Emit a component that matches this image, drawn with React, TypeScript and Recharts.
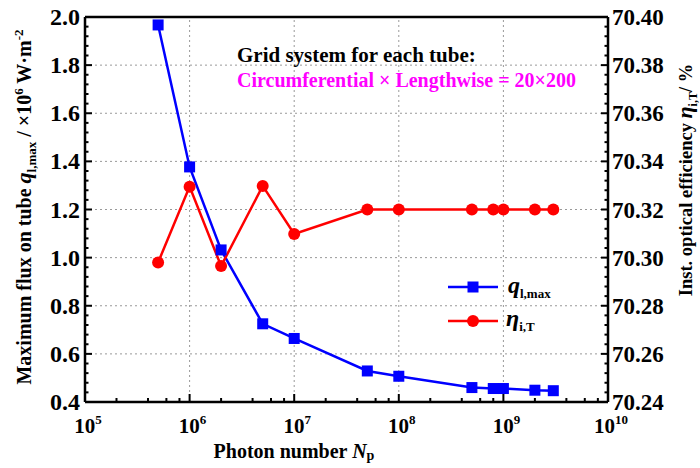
import React from 'react'
import { Line, LineChart, ReferenceLine, XAxis, YAxis } from 'recharts'

const photons = [5e5, 1e6, 2e6, 5e6, 1e7, 5e7, 1e8, 5e8, 8e8, 1e9, 2e9, 3e9]
const qMax = [1.967, 1.377, 1.032, 0.725, 0.664, 0.529, 0.507, 0.46, 0.456, 0.456, 0.449, 0.447]
const etaIT = [70.298, 70.3295, 70.2965, 70.3298, 70.3098, 70.32, 70.32, 70.32, 70.32, 70.32, 70.32, 70.32]

const xDecades = [1e5, 1e6, 1e7, 1e8, 1e9, 1e10]
const xMinorFactors = [2, 4, 6, 8]
const qTicks = [0.4, 0.6, 0.8, 1.0, 1.2, 1.4, 1.6, 1.8, 2.0]
const etaTicks = [70.24, 70.26, 70.28, 70.3, 70.32, 70.34, 70.36, 70.38, 70.4]

const data = photons.map((n, i) => ({ n, q: qMax[i], eta: etaIT[i] }))

const withMinors = (major: number[], parts: number, digits: number) =>
    major.flatMap((t, i) => {
        if (i === major.length - 1) return [t]
        const step = (major[i + 1] - t) / parts
        return Array.from({ length: parts }, (_, k) => Number((t + k * step).toFixed(digits)))
    })

const xAllTicks = xDecades.flatMap((d, i) =>
    i === xDecades.length - 1 ? [d] : [d, ...xMinorFactors.map((f) => d * f)]
)
const qAllTicks = withMinors(qTicks, 5, 3)
const etaAllTicks = withMinors(etaTicks, 5, 4)

const serif = { fontFamily: "'Liberation Serif', serif", fontWeight: 'bold' as const }
const BLUE = '#0000ff'
const RED = '#ff0000'

const LeftTick = ({ x, y, payload }: any) => {
    const major = qTicks.some((t) => Math.abs(t - payload.value) < 1e-6)
    return (
        <g>
            <line x1={x} x2={x + (major ? 7 : 3.5)} y1={y} y2={y} stroke="#000" strokeWidth={2} />
            {major && (
                <text x={x - 5} y={y + 8} textAnchor="end" style={serif} fontSize={24} fill="#000">
                    {payload.value.toFixed(1)}
                </text>
            )}
        </g>
    )
}

const RightTick = ({ x, y, payload }: any) => {
    const major = etaTicks.some((t) => Math.abs(t - payload.value) < 1e-6)
    return (
        <g>
            <line x1={x} x2={x - (major ? 7 : 3.5)} y1={y} y2={y} stroke="#000" strokeWidth={2} />
            {major && (
                <text x={x + 4} y={y + 8} textAnchor="start" style={serif} fontSize={23} fill="#000">
                    {payload.value.toFixed(2)}
                </text>
            )}
        </g>
    )
}

const BottomTick = ({ x, y, payload }: any) => {
    const exp = Math.round(Math.log10(payload.value))
    const major = xDecades.some((d) => Math.abs(d - payload.value) / d < 1e-6)
    return (
        <g>
            <line x1={x} x2={x} y1={y} y2={y - (major ? 8 : 4)} stroke="#000" strokeWidth={2} />
            {major && (
                <text x={x + 3} y={y + 31} textAnchor="middle" style={serif} fontSize={21} fill="#000">
                    10
                    <tspan dy={-9} fontSize={13}>
                        {exp}
                    </tspan>
                </text>
            )}
        </g>
    )
}

const SquareDot = (props: any) => {
    const { cx, cy, index } = props
    return <rect key={`sq-${index}`} x={cx - 5.5} y={cy - 5.5} width={11} height={11} fill={BLUE} />
}

const RoundDot = (props: any) => {
    const { cx, cy, index } = props
    return <circle key={`ci-${index}`} cx={cx} cy={cy} r={6} fill={RED} />
}

const gridLine = { stroke: '#999', strokeDasharray: '2 3', strokeWidth: 1 }

export default function App() {
    return (
        <div style={{ position: 'absolute', left: 0, top: 0, width: 700, height: 468, background: '#fff' }}>
            <LineChart width={700} height={468} data={data} margin={{ top: 17, right: 32, bottom: 16, left: 25 }}>
                <XAxis
                    dataKey="n"
                    type="number"
                    scale="log"
                    domain={[1e5, 1e10]}
                    ticks={xAllTicks}
                    interval={0}
                    allowDataOverflow
                    height={50}
                    tickLine={false}
                    tickSize={0}
                    tickMargin={0}
                    tick={<BottomTick />}
                    axisLine={{ stroke: '#000', strokeWidth: 2.5 }}
                />
                <YAxis
                    yAxisId="q"
                    orientation="left"
                    type="number"
                    domain={[0.4, 2.0]}
                    ticks={qAllTicks}
                    interval={0}
                    allowDataOverflow
                    width={60}
                    tickLine={false}
                    tickSize={0}
                    tickMargin={0}
                    tick={<LeftTick />}
                    axisLine={{ stroke: '#000', strokeWidth: 2.5 }}
                />
                <YAxis
                    yAxisId="eta"
                    orientation="right"
                    type="number"
                    domain={[70.24, 70.4]}
                    ticks={etaAllTicks}
                    interval={0}
                    allowDataOverflow
                    width={60}
                    tickLine={false}
                    tickSize={0}
                    tickMargin={0}
                    tick={<RightTick />}
                    axisLine={{ stroke: '#000', strokeWidth: 2.5 }}
                />
                {xDecades.slice(1, -1).map((d) => (
                    <ReferenceLine key={`vx-${d}`} x={d} yAxisId="q" {...gridLine} />
                ))}
                {qTicks.slice(1, -1).map((t) => (
                    <ReferenceLine key={`hy-${t}`} y={t} yAxisId="q" {...gridLine} />
                ))}
                <ReferenceLine y={2.0} yAxisId="q" stroke="#000" strokeWidth={2.5} />
                <Line
                    yAxisId="q"
                    dataKey="q"
                    stroke={BLUE}
                    strokeWidth={2.5}
                    dot={SquareDot}
                    isAnimationActive={false}
                />
                <Line
                    yAxisId="eta"
                    dataKey="eta"
                    stroke={RED}
                    strokeWidth={2.5}
                    dot={RoundDot}
                    isAnimationActive={false}
                />
            </LineChart>
            <svg width={700} height={468} style={{ position: 'absolute', left: 0, top: 0, pointerEvents: 'none' }}>
                <g style={serif} fill="#000">
                    <text transform="translate(31,207) rotate(-90)" textAnchor="middle" fontSize={20}>
                        Maximum flux on tube{' '}
                        <tspan fontStyle="italic" fontSize={22}>q</tspan>
                        <tspan fontSize={13} dy={5}>l,max</tspan>
                        <tspan dy={-5}> / ×10</tspan>
                        <tspan fontSize={13} dy={-8}>6</tspan>
                        <tspan dy={8}> W·m</tspan>
                        <tspan fontSize={13} dy={-8}>-2</tspan>
                    </text>
                    <text transform="translate(692,180) rotate(-90)" textAnchor="middle" fontSize={18.5}>
                        Inst. optical efficiency{' '}
                        <tspan fontStyle="italic" fontSize={22}>η</tspan>
                        <tspan fontSize={12} dy={5}>i,T</tspan>
                        <tspan dy={-5}>/ %</tspan>
                    </text>
                    <text x={294} y={458} textAnchor="middle" fontSize={20}>
                        Photon number <tspan fontStyle="italic">N</tspan>
                        <tspan fontSize={14} dy={2}>p</tspan>
                    </text>
                    <text x={237} y={62} fontSize={21}>
                        Grid system for each tube:
                    </text>
                    <text x={237} y={87} fontSize={20}>
                        <tspan fill="#ff00ff">Circumferential × Lengthwise = 20×200</tspan>
                    </text>
                </g>
                <g>
                    <line x1={448} x2={498} y1={287} y2={287} stroke={BLUE} strokeWidth={2.5} />
                    <rect x={467.5} y={281.5} width={11} height={11} fill={BLUE} />
                    <line x1={448} x2={498} y1={321} y2={321} stroke={RED} strokeWidth={2.5} />
                    <circle cx={473} cy={321} r={6} fill={RED} />
                    <text x={508} y={293} style={serif} fontSize={24} fill="#000">
                        <tspan fontStyle="italic">q</tspan>
                        <tspan fontSize={13} dy={5}>l,max</tspan>
                    </text>
                    <text x={506} y={326} style={serif} fontSize={24} fill="#000">
                        <tspan fontStyle="italic">η</tspan>
                        <tspan fontSize={13} dy={5}>i,T</tspan>
                    </text>
                </g>
            </svg>
        </div>
    )
}
